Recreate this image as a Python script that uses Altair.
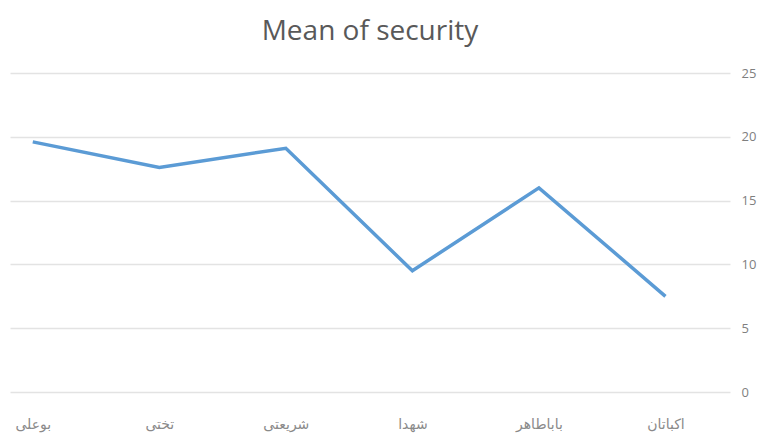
import altair as alt
import pandas as pd
import json

categories = ["بوعلی", "تختی", "شریعتی", "شهدا", "باباطاهر", "اکباتان"]
values = [19.6, 17.6, 19.1, 9.5, 16.0, 7.5]

df = pd.DataFrame({"idx": list(range(len(categories))), "cat": categories, "val": values})
label_expr = json.dumps(categories, ensure_ascii=False) + "[round(datum.value)]"

chart = alt.Chart(df).mark_line(color="#5b9bd5", strokeWidth=3.5).encode(
    x=alt.X("idx:Q", title=None,
            scale=alt.Scale(domain=[-0.18, 5.51], nice=False, zero=False),
            axis=alt.Axis(values=list(range(len(categories))), labelExpr=label_expr,
                          labelAngle=0, domain=False, ticks=False, grid=False,
                          labelFont="DejaVu Sans", labelFontSize=14,
                          labelColor="#8a8a8a", labelPadding=25)),
    y=alt.Y("val:Q", title=None,
            scale=alt.Scale(domain=[0, 25], nice=False),
            axis=alt.Axis(orient="right", values=[0, 5, 10, 15, 20, 25],
                          domain=False, ticks=False, gridColor="#e3e3e3",
                          gridWidth=1.3, labelFont="Open Sans", labelFontSize=13,
                          labelColor="#7f7f7f", labelPadding=11)),
).properties(
    width=751, height=427,
    title=alt.TitleParams("Mean of security", font="Open Sans", fontSize=28,
                          fontWeight="normal", color="#595959", offset=21,
                          anchor="middle"),
    autosize=alt.AutoSizeParams(type="fit", contains="padding"),
    padding={"left": 2, "top": 10, "right": 3, "bottom": 4},
).configure_view(stroke=None)

chart.save("out.html", embed_options={"renderer": "svg", "actions": False})
